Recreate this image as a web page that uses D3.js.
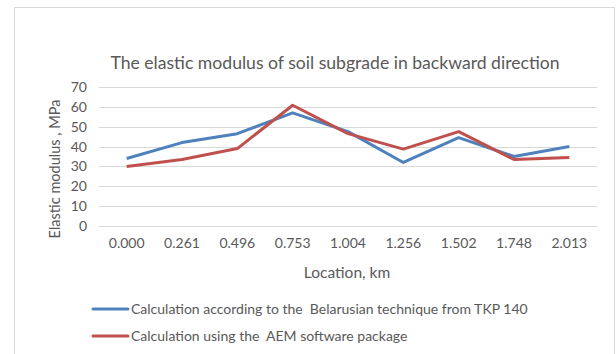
<!DOCTYPE html>
<html>
<head>
<meta charset="utf-8">
<script src="https://cdn.jsdelivr.net/npm/d3@7"></script>
<style>
  body { margin: 0; background: #fff; }
  text { font-family: Lato, "Open Sans", sans-serif; fill: #595959; white-space: pre; }
</style>
</head>
<body>
<div id="chart"></div>
<script>
// data
const locations = ["0.000", "0.261", "0.496", "0.753", "1.004", "1.256", "1.502", "1.748", "2.013"];
const belarusValues = [34, 42, 46.5, 57, 47.5, 32, 44.5, 35, 40];
const aemValues = [30, 33.5, 39, 60.8, 46.5, 38.7, 47.5, 33.5, 34.5];
const yTicks = [0, 10, 20, 30, 40, 50, 60, 70];
const seriesNames = [
    "Calculation according to the  Belarusian technique from TKP 140",
    "Calculation using the  AEM software package"
];
const colors = ["#4F81BD", "#C0504D"];

const width = 616, height = 354;
const plot = { left: 99, right: 597, top: 87, bottom: 226 };

const svg = d3.select("#chart").append("svg")
    .attr("width", width)
    .attr("height", height);

// chart frame
svg.append("rect")
    .attr("x", 14.5).attr("y", 7.5)
    .attr("width", 600).attr("height", 360)
    .attr("fill", "#fff")
    .attr("stroke", "#D9D9D9");

const x = d3.scaleBand()
    .domain(locations)
    .range([plot.left, plot.right]);

const y = d3.scaleLinear()
    .domain([0, 70])
    .range([plot.bottom, plot.top]);

// gridlines
svg.append("g")
    .selectAll("line")
    .data(yTicks)
    .enter().append("line")
    .attr("x1", plot.left).attr("x2", plot.right)
    .attr("y1", d => Math.round(y(d)) + 0.5)
    .attr("y2", d => Math.round(y(d)) + 0.5)
    .attr("stroke", "#D9D9D9")
    .attr("stroke-width", 1);

// y tick labels
const yAxis = svg.append("g")
    .attr("transform", `translate(${plot.left - 12},0)`)
    .call(d3.axisLeft(y).tickValues(yTicks).tickSize(0).tickPadding(0));
yAxis.select(".domain").remove();
yAxis.selectAll("text")
    .style("font-size", "14px")
    .style("font-family", "Lato, sans-serif")
    .attr("fill", "#595959");

// x tick labels
const xAxis = svg.append("g")
    .attr("transform", `translate(0,${plot.bottom + 12})`)
    .call(d3.axisBottom(x).tickSize(0).tickPadding(0));
xAxis.select(".domain").remove();
xAxis.selectAll("text")
    .style("font-size", "14px")
    .style("font-family", "Lato, sans-serif")
    .attr("fill", "#595959");

// title
svg.append("text")
    .attr("x", 335).attr("y", 69)
    .attr("text-anchor", "middle")
    .style("font-size", "17.6px")
    .text("The elastic modulus of soil subgrade in backward direction");

// axis titles
svg.append("text")
    .attr("transform", "translate(60,169) rotate(-90)")
    .attr("text-anchor", "middle")
    .style("font-size", "14.5px")
    .text("Elastic modulus , MPa");

svg.append("text")
    .attr("x", 347).attr("y", 278)
    .attr("text-anchor", "middle")
    .style("font-size", "15.5px")
    .text("Location, km");

// lines
const line = d3.line()
    .x((d, i) => x(locations[i]) + x.bandwidth() / 2)
    .y(d => y(d));

[belarusValues, aemValues].forEach((vals, i) => {
    svg.append("path")
        .datum(vals)
        .attr("d", line)
        .attr("fill", "none")
        .attr("stroke", colors[i])
        .attr("stroke-width", 3)
        .attr("stroke-linejoin", "round");
});

// legend
const legend = svg.append("g");
seriesNames.forEach((name, i) => {
    const ly = 309 + i * 27;
    legend.append("line")
        .attr("x1", 93).attr("x2", 128)
        .attr("y1", ly).attr("y2", ly)
        .attr("stroke", colors[i])
        .attr("stroke-width", 3)
        .attr("stroke-linecap", "round");
    legend.append("text")
        .attr("x", 131).attr("y", ly + 5)
        .style("font-size", "14px")
        .text(name);
});
</script>
</body>
</html>
